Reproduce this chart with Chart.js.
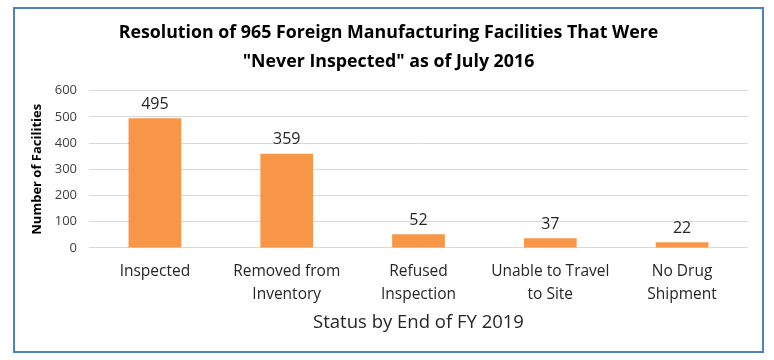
<!DOCTYPE html>
<html lang="en">
<head>
  <meta charset="UTF-8">
  <title>Resolution of 965 Foreign Manufacturing Facilities</title>
  <script src="https://cdn.jsdelivr.net/npm/chart.js"></script>
  <style>
    body {
      margin: 0;
      background: #fff;
    }
    .frame {
      position: absolute;
      left: 13px;
      top: 7px;
      width: 747px;
      height: 342px;
      border: 2px solid #4f81bd;
    }
  </style>
</head>
<body>

<div class="frame">
  <canvas id="chart"></canvas>
</div>

<script>
  const categories = [
    'Inspected',
    ['Removed from', 'Inventory'],
    ['Refused', 'Inspection'],
    ['Unable to Travel', 'to Site'],
    ['No Drug', 'Shipment']
  ];
  const facilities = [495, 359, 52, 37, 22];
  const yTicks = [0, 100, 200, 300, 400, 500, 600];

  const FONT = '"Open Sans", "Liberation Sans", sans-serif';

  // numbers above each bar
  const barLabels = {
    id: 'barLabels',
    afterDatasetsDraw(chart) {
      const ctx = chart.ctx;
      const meta = chart.getDatasetMeta(0);
      ctx.save();
      ctx.font = '16px ' + FONT;
      ctx.fillStyle = '#262626';
      ctx.textAlign = 'center';
      ctx.textBaseline = 'bottom';
      meta.data.forEach((bar, i) => {
        ctx.fillText(facilities[i], bar.x, bar.y - 6);
      });
      ctx.restore();
    }
  };

  new Chart(document.getElementById('chart'), {
    type: 'bar',
    data: {
      labels: categories,
      datasets: [{
        data: facilities,
        backgroundColor: '#f79646',
        barPercentage: 0.5,
        categoryPercentage: 0.8
      }]
    },
    options: {
      responsive: true,
      maintainAspectRatio: false,
      animation: false,
      layout: {
        padding: { left: 14, right: 14, top: 7, bottom: 17 }
      },
      plugins: {
        legend: { display: false },
        tooltip: { enabled: false },
        title: {
          display: true,
          text: ['Resolution of 965 Foreign Manufacturing Facilities That Were',
                 '"Never Inspected" as of July 2016'],
          color: '#000',
          font: { family: FONT, size: 17.8, weight: 'bold', lineHeight: 1.62 },
          padding: { top: 3, bottom: 14 }
        }
      },
      scales: {
        x: {
          grid: { display: false },
          border: { display: false },
          ticks: {
            color: '#262626',
            font: { family: FONT, size: 15.5, lineHeight: 1.48 },
            maxRotation: 0,
            padding: 4
          },
          title: {
            display: true,
            text: 'Status by End of FY 2019',
            color: '#262626',
            font: { family: FONT, size: 18.5 },
            padding: { top: 2, bottom: 0 }
          }
        },
        y: {
          min: 0,
          max: 600,
          afterBuildTicks: scale => {
            scale.ticks = yTicks.map(v => ({ value: v }));
          },
          afterFit: scale => {
            scale.width = 60;
          },
          grid: { color: '#d9d9d9', drawTicks: false },
          border: { display: false },
          ticks: {
            color: '#404040',
            font: { family: FONT, size: 13 },
            padding: 12
          },
          title: {
            display: true,
            text: 'Number of Facilities',
            color: '#000',
            font: { family: FONT, size: 13, weight: 'bold' },
            padding: { top: 0, bottom: 4 }
          }
        }
      }
    },
    plugins: [barLabels]
  });
</script>

</body>
</html>
